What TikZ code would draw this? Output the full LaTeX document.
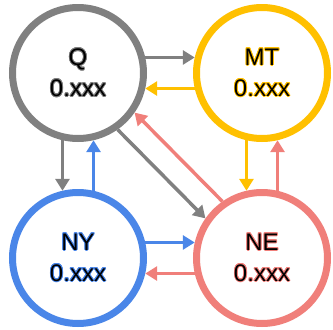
\documentclass[tikz,border=0pt]{standalone}
\usepackage{fontspec}
\setmainfont{Liberation Sans}
\usepackage{xcolor}
\usepackage[copies]{contour}
\usetikzlibrary{arrows.meta, positioning, calc}
\contourlength{0.8pt}
\definecolor{qgray}{HTML}{808080}
\definecolor{mtgold}{HTML}{FFC000}
\definecolor{nyblue}{HTML}{4A86E8}
\definecolor{nesalmon}{HTML}{F07F7A}
\newcommand{\statelbl}[2]{\contour{#1}{#2}}

\begin{document}
\begin{tikzpicture}[x=1pt, y=1pt,
    state/.style={circle, draw, line width=7pt, minimum size=131pt, inner sep=0pt,
        align=center, font=\fontsize{24}{31}\selectfont},
    link/.style={line width=3.5pt, -{Triangle[length=12pt, width=14pt]}}]
    \useasboundingbox (0,0) rectangle (333,-330);

    \node[state, draw=qgray] (Q) at (78,-73) {\statelbl{qgray}{Q}\\\statelbl{qgray}{0.xxx}};
    \node[state, draw=mtgold] (MT) at (262,-73) {\statelbl{mtgold}{MT}\\\statelbl{mtgold}{0.xxx}};
    \node[state, draw=nyblue] (NY) at (78,-258) {\statelbl{nyblue}{NY}\\\statelbl{nyblue}{0.xxx}};
    \node[state, draw=nesalmon] (NE) at (262,-258) {\statelbl{nesalmon}{NE}\\\statelbl{nesalmon}{0.xxx}};

    % top pair
    \draw[link, qgray] (Q.13) -- (MT.167);
    \draw[link, mtgold] (MT.-167) -- (Q.-13);
    % left pair
    \draw[link, qgray] (Q.-103) -- (NY.103);
    \draw[link, nyblue] (NY.77) -- (Q.-77);
    % right pair
    \draw[link, mtgold] (MT.-103) -- (NE.103);
    \draw[link, nesalmon] (NE.77) -- (MT.-77);
    % bottom pair
    \draw[link, nyblue] (NY.13) -- (NE.167);
    \draw[link, nesalmon] (NE.-167) -- (NY.-13);
    % diagonal
    \draw[link, qgray] (Q.-55) -- (NE.145);
    \draw[link, nesalmon] (NE.125) -- (Q.-35);
\end{tikzpicture}
\end{document}
